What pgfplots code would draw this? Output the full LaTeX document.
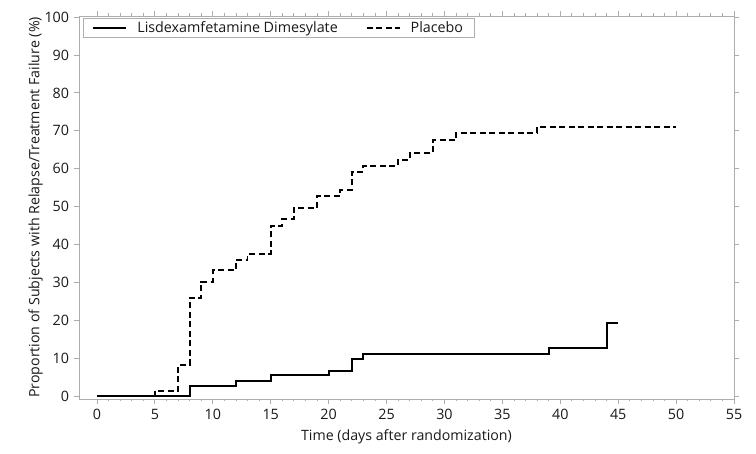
\documentclass[border=0pt]{standalone}
\usepackage{pgfplots}
\pgfplotsset{compat=1.18}
\usepackage{fontspec}
\setmainfont{Open Sans}
\definecolor{axgray}{gray}{0.68}
\definecolor{txt}{gray}{0.1}
\begin{document}
\fontsize{14.3pt}{16pt}\selectfont
\begin{tikzpicture}
\begin{axis}[
 scale only axis, width=655pt, height=383pt,
 xmin=-1.55, xmax=55, ymin=-0.8, ymax=100.3,
 xtick={0,5,...,55}, ytick={0,10,...,100},
 minor x tick num=4,
 tick align=outside, major tick length=5pt, minor tick length=2.5pt,
 axis line style={draw=axgray, line width=0.9pt},
 every tick/.style={draw=axgray, line width=0.8pt},
 ticklabel style={font=\fontsize{14.3pt}{16pt}\selectfont, text=txt},
 /pgf/number format/assume math mode=true,
 label style={font=\fontsize{14.2pt}{16pt}\selectfont, text=txt},
 xlabel={Time (days after randomization)},
 ylabel={Proportion of Subjects with Relapse/Treatment Failure (\%)},
 ylabel style={yshift=-8pt},
 legend columns=2,
 legend style={at={(0,1)}, xshift=4pt, yshift=-2pt, anchor=north west,
   draw=axgray, line width=0.9pt, font=\fontsize{14.3pt}{16pt}\selectfont,
   text=txt, inner xsep=9pt, inner ysep=1pt,
   /tikz/every even column/.append style={column sep=26pt}},
 legend image code/.code={\draw[#1, line width=1.9pt] (0pt,0pt) -- (33pt,0pt); \path (41pt,0pt);},
]
\addplot[const plot, black, line width=1.9pt] coordinates {
(0,0) (8,2.6) (12,3.95) (15,5.45) (20,6.7) (22,9.7) (23,11.1) (39,12.7) (44,19.3) (45,19.3)};
\addlegendentry{Lisdexamfetamine Dimesylate}
\addplot[const plot, black, line width=1.9pt, dash pattern=on 6pt off 3.5pt] coordinates {
(0,0) (5,1.4) (7,8.2) (8,25.9) (9,30.2) (10,33.2) (12,36.0) (13,37.5) (15,44.9) (16,46.7) (17,49.7) (19,52.8) (21,54.4) (22,59.2) (23,60.8) (26,62.4) (27,64.2) (29,67.5) (31,69.5) (38,71.1) (50,71.1)};
\addlegendentry{Placebo}
\end{axis}
\pgfresetboundingbox
\path ([xshift=-79pt,yshift=-55pt]current axis.south west) rectangle ([xshift=22pt,yshift=16pt]current axis.north east);
\end{tikzpicture}
\end{document}
